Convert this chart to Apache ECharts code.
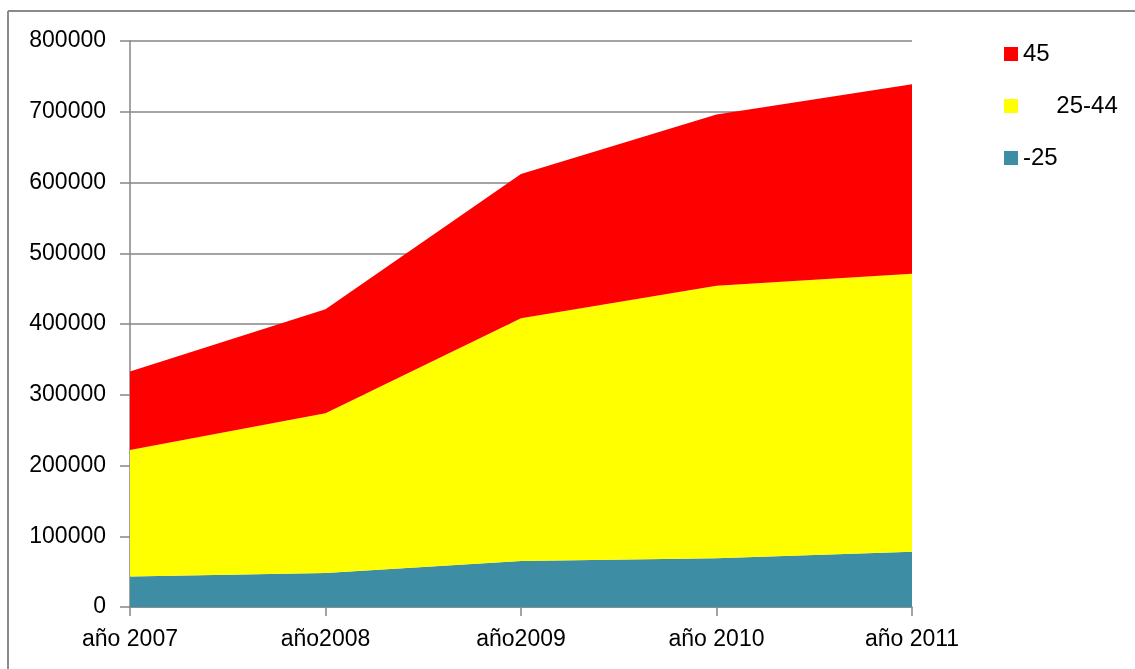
<!DOCTYPE html>
<html>
<head>
<meta charset="utf-8">
<script src="https://cdn.jsdelivr.net/npm/echarts@6/dist/echarts.min.js"></script>
<style>html,body{margin:0;padding:0;background:#fff;}#c{width:1135px;height:669px;}</style>
</head>
<body>
<div id="c"></div>
<script>
const categories = ['año 2007', 'año2008', 'año2009', 'año 2010', 'año 2011'];
const under25 = [43000, 48000, 65000, 69000, 78000];
const from25to44 = [179000, 226000, 343000, 385000, 393000];
const over45 = [111000, 147000, 204000, 242000, 268000];
const seriesNames = ['-25', '25-44', '45'];
const legendOrder = ['45', '25-44', '-25'];
const yTicks = { min: 0, max: 800000, interval: 100000 };

const FONT = 'Liberation Sans';
const chart = echarts.init(document.getElementById('c'));
const gray = '#868686';
const colors = ['#3D8DA4', '#FFFF00', '#FF0000'];
const dataSets = [under25, from25to44, over45];

chart.setOption({
  animation: false,
  textStyle: { fontFamily: FONT },
  graphic: [
    { type: 'line', shape: { x1: 8, y1: 11, x2: 8, y2: 669 }, style: { stroke: '#8a8a8a', lineWidth: 2 } },
    { type: 'line', shape: { x1: 8, y1: 11, x2: 1135, y2: 11 }, style: { stroke: '#8a8a8a', lineWidth: 2 } }
  ],
  grid: { left: 130, right: 223, top: 41, bottom: 62, containLabel: false },
  legend: {
    orient: 'vertical',
    left: 1004,
    top: 42,
    padding: 0,
    itemWidth: 14,
    itemHeight: 14,
    itemGap: 28,
    icon: 'rect',
    data: legendOrder,
    formatter: n => n === '25-44' ? '     25-44' : n,
    textStyle: { fontFamily: FONT, fontSize: 24, color: '#000' }
  },
  xAxis: {
    type: 'category',
    data: categories,
    boundaryGap: false,
    axisLine: { lineStyle: { color: gray, width: 1.5 } },
    axisTick: { show: true, length: 9, alignWithLabel: true, lineStyle: { color: gray, width: 1.5 } },
    axisLabel: { color: '#000', fontSize: 23, fontFamily: FONT, margin: 21 },
    splitLine: { show: false }
  },
  yAxis: {
    type: 'value',
    min: yTicks.min,
    max: yTicks.max,
    interval: yTicks.interval,
    axisLine: { show: true, lineStyle: { color: gray, width: 1.5 } },
    axisTick: { show: true, length: 10, lineStyle: { color: gray, width: 1.5 } },
    axisLabel: { color: '#000', fontSize: 23, fontFamily: FONT, margin: 24, formatter: v => String(v) },
    splitLine: { show: true, lineStyle: { color: gray, width: 1.5 } }
  },
  series: seriesNames.map((name, i) => ({
    name: name,
    type: 'line',
    stack: 'total',
    data: dataSets[i],
    showSymbol: false,
    symbol: 'none',
    lineStyle: { width: 0 },
    itemStyle: { color: colors[i] },
    areaStyle: { color: colors[i], opacity: 1 },
    z: 3
  }))
});
</script>
</body>
</html>
